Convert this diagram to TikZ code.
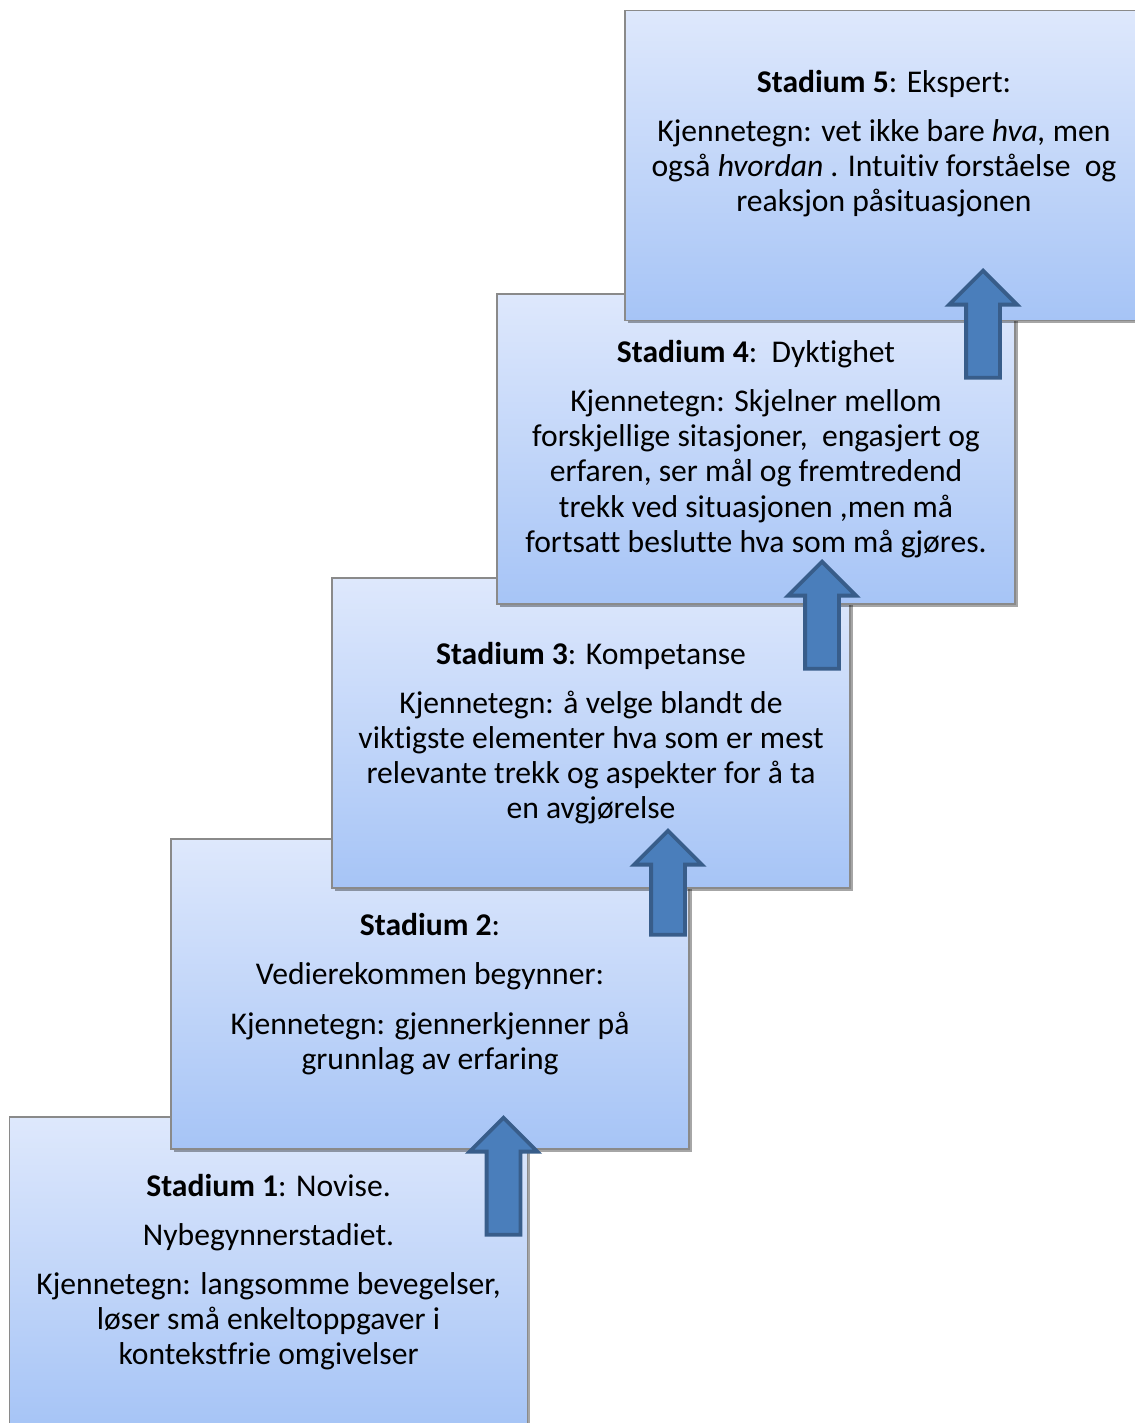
\documentclass[tikz,border=0pt]{standalone}
\usepackage{fontspec}
\setmainfont{Carlito}[Ligatures={NoCommon}]
\usepackage{tikz}
\usetikzlibrary{shapes.arrows, shadows, positioning}
\definecolor{boxtop}{RGB}{222,232,252}
\definecolor{boxbottom}{RGB}{166,196,246}
\definecolor{boxline}{RGB}{138,138,138}
\definecolor{arrowfill}{RGB}{74,126,187}
\definecolor{arrowline}{RGB}{56,93,138}
\tikzset{
	stagebox/.style={
			rectangle,
			draw=boxline,
			line width=0.7pt,
			top color=boxtop,
			bottom color=boxbottom,
			minimum width=10.36cm,
			minimum height=6.2cm,
			inner sep=0pt,
			align=center,
			font=\fontsize{18}{20}\selectfont,
			drop shadow={shadow xshift=1.5pt, shadow yshift=-1.5pt, opacity=0.35, fill=black}
		},
	uparrow/.style={
			single arrow,
			shape border rotate=90,
			draw=arrowline,
			fill=arrowfill,
			line width=2.2pt,
			single arrow head extend=0.34cm,
			single arrow tip angle=90,
			inner sep=0pt,
			anchor=tip
		}
}

\begin{document}
\begin{tikzpicture}[x=0.02cm, y=-0.02cm]
\useasboundingbox (0,0) rectangle (1134,1423);
\node[stagebox] (s1) at (268.5,1272) {\textbf{Stadium 1}: Novise.\\[8pt]
  Nybegynnerstadiet.\\[8pt]
  Kjennetegn: langsomme bevegelser,\\ løser små enkeltoppgaver i\\ kontekstfrie omgivelser};
\node[stagebox] (s2) at (430,994) {\textbf{Stadium 2}:\\[8pt]
  Vedierekommen begynner:\\[8pt]
  Kjennetegn: gjennerkjenner på\\ grunnlag av erfaring};
\node[stagebox] (s3) at (591,733) {\textbf{Stadium 3}: Kompetanse\\[8pt]
  Kjennetegn: å velge blandt de\\ viktigste elementer hva som er mest\\ relevante trekk og aspekter for å ta\\ en avgjørelse};
\node[stagebox] (s4) at (756,449) {\textbf{Stadium 4}:\ \ Dyktighet\\[8pt]
  Kjennetegn: Skjelner mellom\\ forskjellige sitasjoner,\ \ engasjert og\\ erfaren, ser mål og fremtredend\\ trekk ved situasjonen ,men må\\ fortsatt beslutte hva som må gjøres.};
\node[stagebox] (s5) at (884,165.5) {\textbf{Stadium 5}: Ekspert:\\[8pt]
  Kjennetegn: vet ikke bare \textit{hva,} men\\ også \textit{hvordan} . Intuitiv forståelse\ \ og\\ reaksjon påsituasjonen\\[8pt] \mbox{}};

% arrows between the stages
\node[uparrow, minimum height=2.34cm] (a12) at (503.5,1115) {\phantom{\rule{0.6cm}{0.6cm}}};
\node[uparrow, minimum height=2.08cm] (a23) at (668,828) {\phantom{\rule{0.6cm}{0.6cm}}};
\node[uparrow, minimum height=2.14cm] (a34) at (822,559) {\phantom{\rule{0.6cm}{0.6cm}}};
\node[uparrow, minimum height=2.14cm] (a45) at (983,268) {\phantom{\rule{0.6cm}{0.6cm}}};

\end{tikzpicture}
\end{document}
